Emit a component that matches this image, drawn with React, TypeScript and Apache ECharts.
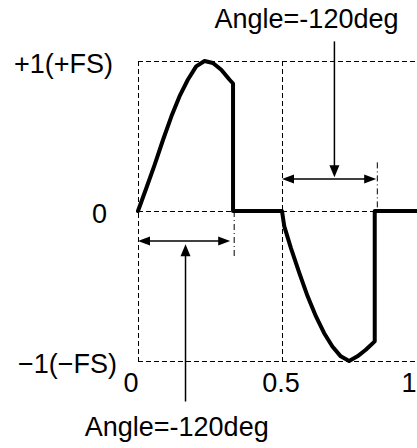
import React, { useEffect, useRef } from 'react';
import * as echarts from 'echarts';

// Waveform: positive lobe cut at -120deg, then the negative lobe
const positiveLobe: number[][] = [
  [0, 0], [0.029, 0.153], [0.058, 0.309], [0.087, 0.475], [0.116, 0.631],
  [0.144, 0.764], [0.173, 0.875], [0.202, 0.964], [0.231, 1.0], [0.26, 0.987],
  [0.289, 0.942], [0.318, 0.875], [0.33, 0.85], [0.33, 0],
];
const negativeLobe: number[][] = [
  [0.5, 0], [0.508, -0.103], [0.531, -0.247], [0.56, -0.413], [0.589, -0.569],
  [0.618, -0.703], [0.646, -0.813], [0.675, -0.903], [0.704, -0.969], [0.733, -1.0],
  [0.762, -0.969], [0.791, -0.925], [0.822, -0.869], [0.822, 0], [1, 0],
];

// Axis ticks
const xTicks = [0, 0.5, 1];
const xTickLabels = ['0', '0.5', '1'];
const yTicks = [-1, 0, 1];
const yTickLabels = ['\u22121(\u2212FS)', '0', '+1(+FS)'];

// Annotations: [xFrom, xTo, y] double arrows, [x, yFrom, yTo] pointers, [x, yFrom, yTo] dash-dot markers
const spanArrows: number[][] = [[0, 0.32, -0.2], [0.5, 0.827, 0.213]];
const pointerArrows: number[][] = [[0.165, -1.27, -0.222], [0.682, 1.131, 0.225]];
const dashDotMarkers: number[][] = [[0.334, 0, -0.305], [0.831, 0.324, 0]];
const annotationText = 'Angle=-120deg';

const FONT = '"Liberation Sans", Arial, sans-serif';
const FS = 27;

function renderSpan(_p: any, api: any) {
  const a = api.coord([api.value(0), api.value(2)]);
  const b = api.coord([api.value(1), api.value(2)]);
  const L = 12, W = 4.5;
  return {
    type: 'group',
    children: [
      { type: 'line', shape: { x1: a[0] + L - 1, y1: a[1], x2: b[0] - L + 1, y2: b[1] }, style: { stroke: '#000', lineWidth: 1.5 } },
      { type: 'polygon', shape: { points: [[a[0], a[1]], [a[0] + L, a[1] - W], [a[0] + L, a[1] + W]] }, style: { fill: '#000' } },
      { type: 'polygon', shape: { points: [[b[0], b[1]], [b[0] - L, b[1] - W], [b[0] - L, b[1] + W]] }, style: { fill: '#000' } },
    ],
  };
}

function renderPointer(_p: any, api: any) {
  const a = api.coord([api.value(0), api.value(1)]);
  const b = api.coord([api.value(0), api.value(2)]);
  const dir = b[1] > a[1] ? 1 : -1;
  const L = 12, W = 5;
  return {
    type: 'group',
    children: [
      { type: 'line', shape: { x1: a[0], y1: a[1], x2: b[0], y2: b[1] - dir * (L - 1) }, style: { stroke: '#000', lineWidth: 1.5 } },
      { type: 'polygon', shape: { points: [[b[0], b[1]], [b[0] - W, b[1] - dir * L], [b[0] + W, b[1] - dir * L]] }, style: { fill: '#000' } },
    ],
  };
}

function renderDashDot(_p: any, api: any) {
  const a = api.coord([api.value(0), api.value(1)]);
  const b = api.coord([api.value(0), api.value(2)]);
  return {
    type: 'line',
    shape: { x1: a[0], y1: a[1], x2: b[0], y2: b[1] },
    style: { stroke: '#000', lineWidth: 1, lineDash: [6, 3, 1, 3] },
  };
}

export default function App() {
  const ref = useRef<HTMLDivElement>(null);
  useEffect(() => {
    if (!ref.current) return;
    const chart = echarts.init(ref.current, null, { renderer: 'svg' });
    const dashed = { color: '#000', width: 1, type: [5, 3] as any };
    chart.setOption({
      animation: false,
      backgroundColor: '#fff',
      grid: { left: 138, top: 61, width: 288, height: 300, containLabel: false, outerBoundsMode: 'none' },
      xAxis: {
        type: 'value', min: 0, max: 1, interval: 0.5,
        axisLine: { show: false }, axisTick: { show: false },
        splitLine: { show: true, lineStyle: dashed },
        axisLabel: {
          margin: 8, color: '#000', fontFamily: FONT, fontSize: FS,
          formatter: (v: number) => {
            const i = xTicks.indexOf(v);
            return i < 0 ? '' : `{x${i}|${xTickLabels[i]}}`;
          },
          rich: {
            x0: { fontFamily: FONT, fontSize: FS, color: '#000', padding: [0, 14, 0, 0] },
            x1: { fontFamily: FONT, fontSize: FS, color: '#000', padding: [0, 2, 0, 0] },
            x2: { fontFamily: FONT, fontSize: FS, color: '#000', padding: [0, 34, 0, 0] },
          },
        },
      },
      yAxis: {
        type: 'value', min: -1, max: 1, interval: 1,
        axisLine: { show: false }, axisTick: { show: false },
        splitLine: { show: true, lineStyle: dashed },
        axisLabel: {
          margin: 21, color: '#000', fontFamily: FONT, fontSize: FS,
          formatter: (v: number) => {
            const i = yTicks.indexOf(v);
            return i < 0 ? '' : `{y${i}|${yTickLabels[i]}}`;
          },
          rich: {
            y0: { fontFamily: FONT, fontSize: FS, color: '#000', padding: [6, 0, 0, 0] },
            y1: { fontFamily: FONT, fontSize: FS, color: '#000', padding: [6, 10, 0, 0] },
            y2: { fontFamily: FONT, fontSize: FS, color: '#000', padding: [6, 4, 0, 0] },
          },
        },
      },
      series: [
        {
          type: 'line', data: [...positiveLobe, ...negativeLobe], showSymbol: false, symbol: 'none',
          lineStyle: { color: '#000', width: 4, join: 'round', cap: 'round' }, z: 5,
        },
        { type: 'custom', renderItem: renderSpan, data: spanArrows, z: 4 },
        { type: 'custom', renderItem: renderPointer, data: pointerArrows, z: 4 },
        { type: 'custom', renderItem: renderDashDot, data: dashDotMarkers, z: 3 },
      ],
      graphic: [
        { type: 'text', x: 306.5, y: 19, style: { text: annotationText, font: `${FS}px ${FONT}`, fill: '#000', align: 'center', verticalAlign: 'middle' } },
        { type: 'text', x: 176.7, y: 427, style: { text: annotationText, font: `${FS}px ${FONT}`, fill: '#000', align: 'center', verticalAlign: 'middle' } },
      ],
    });
    return () => chart.dispose();
  }, []);
  return <div ref={ref} style={{ position: 'fixed', left: 0, top: 0, width: 417, height: 448 }} />;
}
